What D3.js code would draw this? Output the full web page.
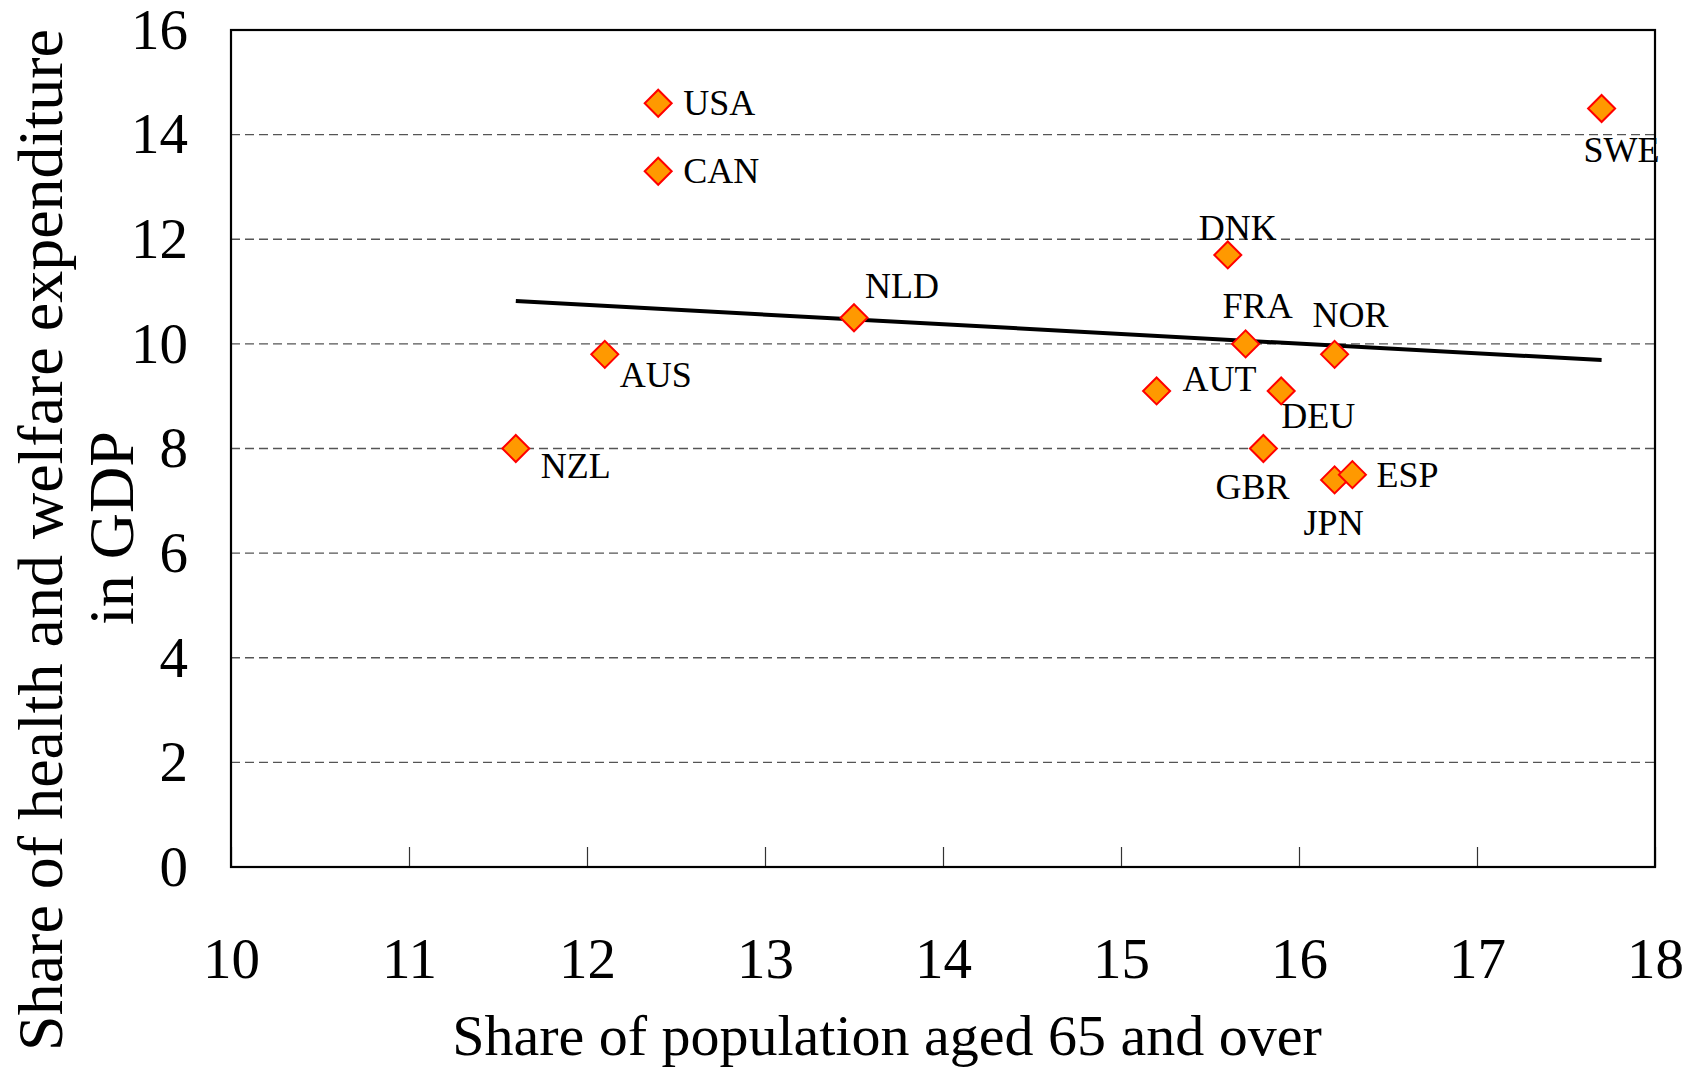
<!DOCTYPE html>
<html>
<head>
<meta charset="utf-8">
<script src="https://cdn.jsdelivr.net/npm/d3@7"></script>
<style>
  html, body { margin: 0; padding: 0; background: #fff; }
  svg { display: block; font-family: "Liberation Serif", "Times New Roman", serif; }
  svg text { font-family: "Liberation Serif", "Times New Roman", serif; }
</style>
</head>
<body>
<svg id="chart" width="1700" height="1069"></svg>
<script>
// ---- Data ----
const countries = ["USA","CAN","NLD","AUS","NZL","DNK","FRA","NOR","AUT","DEU","GBR","JPN","ESP","SWE"];
const popShare65 = [12.4, 12.4, 13.5, 12.1, 11.6, 15.6, 15.7, 16.2, 15.2, 15.9, 15.8, 16.2, 16.3, 17.7];
const healthWelfareShare = [14.6, 13.3, 10.5, 9.8, 8.0, 11.7, 10.0, 9.8, 9.1, 9.1, 8.0, 7.4, 7.5, 14.5];
const trendX = [11.6, 17.7];
const trendY = [10.82, 9.69];
const xTicks = [10, 11, 12, 13, 14, 15, 16, 17, 18];
const yTicks = [0, 2, 4, 6, 8, 10, 12, 14, 16];
const xTitle = "Share of population aged 65 and over";
const yTitleLines = ["Share of health and welfare expenditure", "in GDP"];

// ---- Layout (label placement relative to marker, px) ----
const labelOffset = {
  USA: [25, 12], CAN: [25, 12], NLD: [11, -20], AUS: [15, 33], NZL: [25, 29],
  DNK: [-29, -15], FRA: [-23, -26], NOR: [-22, -27], AUT: [26, 0], DEU: [0, 37],
  GBR: [-48, 50], JPN: [-31, 55], ESP: [24, 12], SWE: [-18, 54]
};

(function () {
const FONT = '"Liberation Serif", "Times New Roman", serif';
const svg = d3.select("#chart");
const pLeft = 231, pRight = 1655, pTop = 30, pBottom = 867;

const x = d3.scaleLinear().domain([10, 18]).range([pLeft, pRight]);
const y = d3.scaleLinear().domain([0, 16]).range([pBottom, pTop]);

// gridlines
svg.append("g").selectAll("line")
  .data(yTicks.filter(v => v > 0 && v < 16))
  .join("line")
  .attr("x1", pLeft).attr("x2", pRight)
  .attr("y1", d => y(d)).attr("y2", d => y(d))
  .attr("stroke", "#555").attr("stroke-width", 1.3)
  .attr("stroke-dasharray", "9,5");

// x axis (inward ticks)
const xAxis = svg.append("g")
  .attr("transform", `translate(0,${pBottom})`)
  .call(d3.axisBottom(x).tickValues(xTicks).tickSize(-20).tickPadding(71).tickFormat(d3.format("d")));
xAxis.attr("font-family", FONT);
xAxis.select(".domain").remove();
xAxis.selectAll(".tick line").attr("stroke", "#333").attr("stroke-width", 1.2);
xAxis.selectAll(".tick text").attr("font-size", 57).attr("fill", "#000").attr("font-family", FONT);

// y axis labels
const yAxis = svg.append("g")
  .attr("transform", `translate(${pLeft},0)`)
  .call(d3.axisLeft(y).tickValues(yTicks).tickSize(0).tickPadding(43).tickFormat(d3.format("d")));
yAxis.attr("font-family", FONT);
yAxis.select(".domain").remove();
yAxis.selectAll(".tick text").attr("font-size", 57).attr("fill", "#000").attr("font-family", FONT);

// frame
svg.append("rect")
  .attr("x", pLeft).attr("y", pTop)
  .attr("width", pRight - pLeft).attr("height", pBottom - pTop)
  .attr("fill", "none").attr("stroke", "#000").attr("stroke-width", 2.2);

// trend line
svg.append("path")
  .datum(trendX.map((v, i) => [v, trendY[i]]))
  .attr("d", d3.line().x(d => x(d[0])).y(d => y(d[1])))
  .attr("stroke", "#000").attr("stroke-width", 4).attr("fill", "none");

// points
const pts = countries.map((c, i) => ({ c, xv: popShare65[i], yv: healthWelfareShare[i] }));
const h = 13.5;
svg.append("g").selectAll("path")
  .data(pts)
  .join("path")
  .attr("transform", d => `translate(${x(d.xv)},${y(d.yv)})`)
  .attr("d", `M0,${-h}L${h},0L0,${h}L${-h},0Z`)
  .attr("fill", "#FF9900").attr("stroke", "#FF0000").attr("stroke-width", 2);

// labels
svg.append("g").selectAll("text")
  .data(pts)
  .join("text")
  .attr("x", d => x(d.xv) + labelOffset[d.c][0])
  .attr("y", d => y(d.yv) + labelOffset[d.c][1])
  .attr("font-family", FONT)
  .attr("font-size", 36)
  .attr("fill", "#000")
  .text(d => d.c);

// x title
svg.append("text")
  .attr("x", 887).attr("y", 1055)
  .attr("text-anchor", "middle")
  .attr("font-family", FONT)
  .attr("font-size", 58)
  .text(xTitle);

// y title (two lines, rotated)
svg.append("text")
  .attr("transform", "translate(62,540) rotate(-90)")
  .attr("text-anchor", "middle")
  .attr("font-family", FONT)
  .attr("font-size", 64)
  .text(yTitleLines[0]);
svg.append("text")
  .attr("transform", "translate(133,528) rotate(-90)")
  .attr("text-anchor", "middle")
  .attr("font-family", FONT)
  .attr("font-size", 64)
  .text(yTitleLines[1]);
})();
</script>
</body>
</html>
